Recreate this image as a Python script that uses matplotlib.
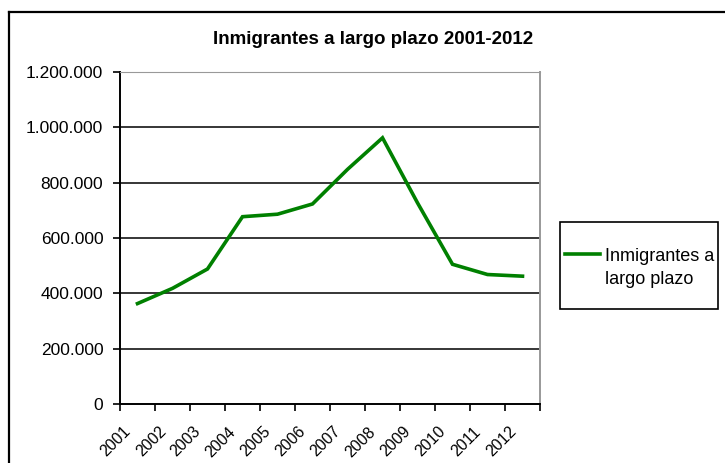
import matplotlib.pyplot as plt
from matplotlib.lines import Line2D
from matplotlib.patches import Rectangle
from matplotlib.ticker import FuncFormatter, FixedLocator
from matplotlib.transforms import ScaledTranslation

plt.rcParams['font.family'] = ['Liberation Sans', 'DejaVu Sans']

years = ['2001', '2002', '2003', '2004', '2005', '2006',
         '2007', '2008', '2009', '2010', '2011', '2012']
inmigrantes = [363000, 418000, 488000, 677000, 686000, 723000,
               848000, 962000, 727000, 505000, 468000, 462000]
serie = 'Inmigrantes a\nlargo plazo'
titulo = 'Inmigrantes a largo plazo 2001-2012'

verde = '#008000'

fig = plt.figure(figsize=(7.25, 4.63), dpi=100)
ax = fig.add_axes([120/725, 1-404/463, 420/725, 332/463])

x = [i + 0.5 for i in range(len(years))]
ax.plot(x, inmigrantes, color=verde, lw=2.6, solid_joinstyle='miter',
        label=serie)

ax.set_xlim(0, len(years))
ax.set_ylim(0, 1200000)

# ticks on category edges, labels in the middle of each category
ax.xaxis.set_major_locator(FixedLocator(range(len(years) + 1)))
ax.xaxis.set_minor_locator(FixedLocator(x))
ax.set_xticklabels([], minor=False)
ax.set_xticklabels(years, minor=True, rotation=45, ha='right',
                   va='center', rotation_mode='anchor', fontsize=11.5)
ax.tick_params(axis='x', which='minor', length=0, pad=16)
ax.tick_params(axis='x', which='major', length=5, width=1.2, direction='out')
shift = ScaledTranslation(-0.09, -0.03, fig.dpi_scale_trans)
for lbl in ax.get_xticklabels(minor=True):
    lbl.set_transform(lbl.get_transform() + shift)

ax.set_yticks(range(0, 1200001, 200000))
ax.yaxis.set_major_formatter(FuncFormatter(lambda v, p: f'{int(v):,}'.replace(',', '.')))
ax.tick_params(axis='y', length=5, width=1.2, direction='out', labelsize=12.5, pad=7)

for v in range(200000, 1200000, 200000):
    ax.axhline(v, color='black', lw=1.1, zorder=1)

ax.spines['left'].set_linewidth(1.4)
ax.spines['bottom'].set_linewidth(1.4)
ax.spines['top'].set_color('#999999')
ax.spines['right'].set_color('#999999')
ax.spines['right'].set_linewidth(1.4)

fig.text(373/725, 1-40/463, titulo, ha='center', va='center',
         fontsize=13.5, fontweight='bold')

# legend box
fig.add_artist(Rectangle((560/725, 1-309/463), 158/725, 87/463,
                         transform=fig.transFigure, fill=False,
                         edgecolor='black', lw=1.2))
leg = fig.legend(loc='upper left', bbox_to_anchor=(565/725, 1-248/463),
                 frameon=False, fontsize=13, handlelength=1.95,
                 handletextpad=0.25, borderpad=0, borderaxespad=0)
for t in leg.get_texts():
    t.set_linespacing(1.45)
# put the legend line level with the first text line
for h in leg.legend_handles:
    h.set_ydata([y + 10 for y in h.get_ydata()])

# outer chart border
fig.add_artist(Line2D([8.5/725, 8.5/725], [0, 1-11.5/463], color='black',
                      lw=1.6, transform=fig.transFigure))
fig.add_artist(Line2D([8.5/725, 1], [1-11.5/463, 1-11.5/463], color='black',
                      lw=1.6, transform=fig.transFigure))

fig.savefig('out.png', dpi=100)
